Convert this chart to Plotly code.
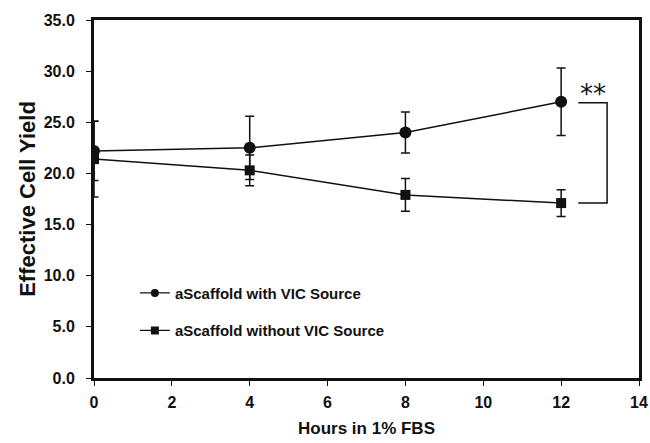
import plotly.graph_objects as go

hours = [0, 4, 8, 12]
with_vic = [22.2, 22.5, 24.0, 27.0]
with_vic_err = [2.9, 3.1, 2.0, 3.3]
without_vic = [21.4, 20.3, 17.9, 17.1]
without_vic_err = [3.7, 1.5, 1.6, 1.3]
x_ticks = [0, 2, 4, 6, 8, 10, 12, 14]
y_ticks = [0, 5, 10, 15, 20, 25, 30, 35]
y_tick_labels = [f"{v:.1f}" for v in y_ticks]
series_names = ["aScaffold with VIC Source", "aScaffold without VIC Source"]

font_family = "Liberation Sans, Arial, sans-serif"

fig = go.Figure()
fig.add_trace(go.Scatter(
    x=hours, y=with_vic, name=series_names[0], showlegend=False,
    mode="lines+markers",
    line=dict(color="#111", width=1.5),
    marker=dict(symbol="circle", size=12, color="#111"),
    error_y=dict(type="data", array=with_vic_err, color="#111", thickness=1.5, width=4.5),
))
fig.add_trace(go.Scatter(
    x=hours, y=without_vic, name=series_names[1], showlegend=False,
    mode="lines+markers",
    line=dict(color="#111", width=1.5),
    marker=dict(symbol="square", size=10, color="#111"),
    error_y=dict(type="data", array=without_vic_err, color="#111", thickness=1.5, width=4.5),
))
# legend entries with smaller symbols, as in the original
for i, (nm, sym) in enumerate(zip(series_names, ["circle", "square"])):
    fig.add_trace(go.Scatter(
        x=[None], y=[None], name=nm, mode="lines+markers", legendgroup=f"g{i}",
        line=dict(color="#111", width=1.2),
        marker=dict(symbol=sym, size=8, color="#111"),
    ))

# significance bracket
fig.add_shape(type="path", path="M 12.44,26.9 L 13.18,26.9 L 13.18,17.1 L 12.44,17.1",
              line=dict(color="#111", width=1.5), xref="x", yref="y")
fig.add_annotation(x=12.83, y=27.75, text="**", showarrow=False,
                   font=dict(size=26, color="#111", family="DejaVu Sans"))

fig.update_layout(
    width=650, height=443,
    margin=dict(l=94, r=11, t=20, b=65, autoexpand=False),
    paper_bgcolor="white", plot_bgcolor="white",
    font=dict(family=font_family, color="#111"),
    showlegend=True,
    legend=dict(x=0.075, y=0.283, xanchor="left", yanchor="top",
                bgcolor="rgba(0,0,0,0)", traceorder="grouped", tracegroupgap=15,
                font=dict(size=15, family=font_family, color="#111", weight="bold")),
    xaxis=dict(range=[0, 14], tickvals=x_ticks, ticks="outside", ticklen=5,
               tickwidth=1, tickcolor="#111", showgrid=False, zeroline=False,
               showline=True, linecolor="#111", linewidth=3, mirror=True,
               automargin=False, ticklabelstandoff=3,
               tickfont=dict(size=16, family=font_family, weight="bold"),
               title=dict(text="Hours in 1% FBS", font=dict(size=17, weight="bold"), standoff=12)),
    yaxis=dict(range=[0, 35], tickvals=y_ticks, ticktext=y_tick_labels,
               ticks="outside", ticklen=5,
               tickwidth=1, tickcolor="#111", showgrid=False, zeroline=False,
               showline=True, linecolor="#111", linewidth=3, mirror=True,
               automargin=False, ticklabelstandoff=8,
               tickfont=dict(size=16, family=font_family, weight="bold"),
               title=dict(text="Effective Cell Yield", font=dict(size=22, weight="bold"), standoff=2)),
)
fig.write_html("out.html")
